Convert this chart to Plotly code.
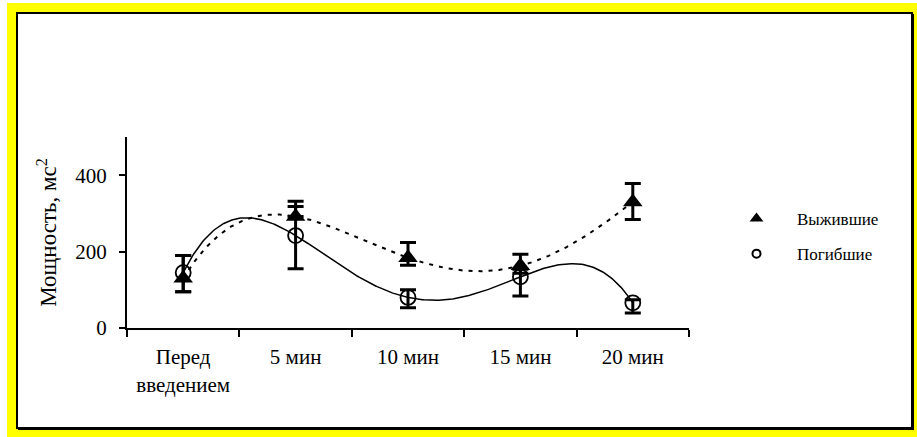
import numpy as np
import plotly.graph_objects as go

categories = ["Перед<br>введением", "5 мин", "10 мин", "15 мин", "20 мин"]
survived = [130, 292, 184, 163, 330]
survived_plus = [60, 40, 40, 30, 48]
survived_minus = [35, 0, 20, 20, 46]
died = [145, 242, 80, 134, 66]
died_plus = [45, 76, 20, 20, 8]
died_minus = [50, 87, 27, 50, 27]
y_ticks = [0, 200, 400]
names = ["Выжившие", "Погибшие"]

xpos = np.arange(len(categories), dtype=float)
xs = np.linspace(0, len(categories) - 1, 300)
trend_s = np.polyval(np.polyfit(xpos, survived, 4), xs)
trend_d = np.polyval(np.polyfit(xpos, died, 4), xs)

FONT = "Liberation Serif"
W, H = 917, 437
L, R, T, B = 127, 689, 137, 328


def px(x):
    return (x - L) / (R - L)


def py(y):
    return (B - y) / (B - T)


fig = go.Figure()
fig.add_trace(go.Scatter(x=xs, y=trend_s, mode="lines", showlegend=False,
                         line=dict(color="black", width=2, dash="4px,6px"), hoverinfo="skip"))
fig.add_trace(go.Scatter(x=xs, y=trend_d, mode="lines", showlegend=False,
                         line=dict(color="black", width=1.5), hoverinfo="skip"))
fig.add_trace(go.Scatter(x=xpos, y=survived, mode="markers", showlegend=False,
                         marker=dict(symbol="triangle-up", size=17, color="black"),
                         error_y=dict(type="data", array=survived_plus, arrayminus=survived_minus,
                                      color="black", thickness=3, width=8)))
fig.add_trace(go.Scatter(x=xpos, y=died, mode="markers", showlegend=False,
                         marker=dict(symbol="circle-open", size=15, color="black",
                                     line=dict(width=1.8, color="black")),
                         error_y=dict(type="data", array=died_plus, arrayminus=died_minus,
                                      color="black", thickness=3, width=8)))
fig.add_trace(go.Scatter(x=[None], y=[None], mode="markers", name=names[0], legendgroup="a",
                         marker=dict(symbol="triangle-up", size=12, color="black")))
fig.add_trace(go.Scatter(x=[None], y=[None], mode="markers", name=names[1], legendgroup="b",
                         marker=dict(symbol="circle-open", size=8, color="black",
                                     line=dict(width=2, color="black"))))

shapes = [
    dict(type="rect", xref="paper", yref="paper", x0=px(7), x1=px(917), y0=py(3), y1=py(437),
         fillcolor="#ffff00", line=dict(width=0), layer="below"),
    dict(type="rect", xref="paper", yref="paper", x0=px(18), x1=px(914), y0=py(14), y1=py(430),
         fillcolor="black", line=dict(width=0), layer="below"),
    dict(type="rect", xref="paper", yref="paper", x0=px(17), x1=px(912), y0=py(13), y1=py(428),
         fillcolor="white", line=dict(width=2, color="black"), layer="below"),
]

fig.update_layout(
    width=W, height=H,
    margin=dict(l=L, r=W - R, t=T, b=H - B, pad=0),
    paper_bgcolor="white", plot_bgcolor="rgba(0,0,0,0)",
    font=dict(family=FONT, size=17, color="black"),
    shapes=shapes,
    showlegend=True,
    legend=dict(x=px(716), y=py(201), xanchor="left", yanchor="top",
                font=dict(family=FONT, size=17, color="black"),
                bgcolor="rgba(0,0,0,0)", tracegroupgap=10, itemwidth=71),
    xaxis=dict(range=[-0.5, len(categories) - 0.5], tickvals=list(xpos), ticktext=categories,
               ticks="", showgrid=False, zeroline=False, showline=True, linecolor="black",
               linewidth=2, ticklabelstandoff=9,
               tickfont=dict(family=FONT, size=21, color="black"),
               minor=dict(tickvals=list(np.arange(-0.5, len(categories), 1.0)), ticks="outside",
                          ticklen=7, tickwidth=2, tickcolor="black", showgrid=False)),
    yaxis=dict(range=[0, 500], tickvals=y_ticks, ticks="outside", ticklen=6, tickwidth=2,
               tickcolor="black", showgrid=False, zeroline=False, showline=True,
               linecolor="black", linewidth=2, ticklabelstandoff=8,
               tickfont=dict(family=FONT, size=21, color="black"),
               title=dict(text="Мощность, мс<sup>2</sup>", standoff=12,
                          font=dict(family=FONT, size=23, color="black"))),
)

fig.write_html("out.html", config={"displayModeBar": False},
               post_script="document.body.style.margin='0';document.body.style.overflow='hidden';")
